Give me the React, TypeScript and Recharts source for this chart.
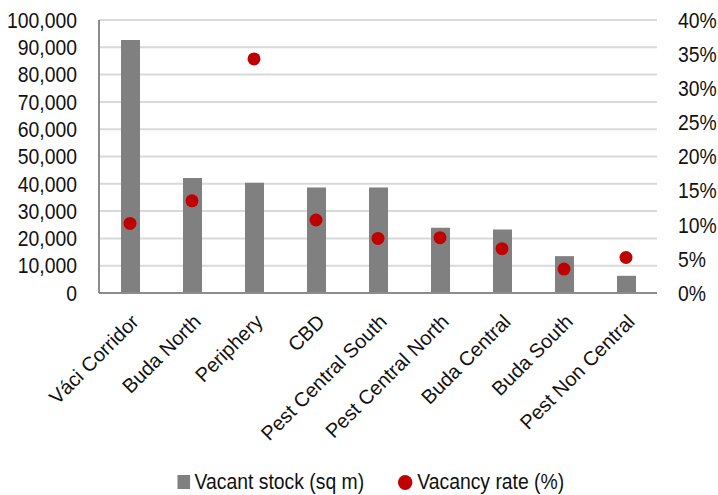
import React from 'react';
import { ComposedChart, Bar, Line, XAxis, YAxis, CartesianGrid, Legend } from 'recharts';

const categories = ['Váci Corridor', 'Buda North', 'Periphery', 'CBD', 'Pest Central South', 'Pest Central North', 'Buda Central', 'Buda South', 'Pest Non Central'];
const vacantStock = [92700, 42100, 40400, 38600, 38600, 23900, 23300, 13500, 6300];
const vacancyRate = [10.2, 13.5, 34.3, 10.7, 8.0, 8.1, 6.5, 3.5, 5.2];
const leftTicks = [0, 10000, 20000, 30000, 40000, 50000, 60000, 70000, 80000, 90000, 100000];
const rightTicks = [0, 5, 10, 15, 20, 25, 30, 35, 40];

const data = categories.map((name, i) => ({ name, stock: vacantStock[i], rate: vacancyRate[i] }));

const FONT = '"Liberation Sans", Arial, sans-serif';
const TEXT = '#111';
const SX = 0.9;
const FS = 21.5;

const CategoryTick = (props: any) => {
  const { x, y, payload } = props;
  const ax = x + 10;
  const ay = y + 22;
  return (
    <text x={ax} y={ay} transform={`rotate(-45, ${ax}, ${ay})`} textAnchor="end" fontSize={20} fontFamily={FONT} fill={TEXT}>
      {payload.value}
    </text>
  );
};

const ValueTick = (props: any) => {
  const { x, y, payload, textAnchor, tickFormatter } = props;
  const label = tickFormatter ? tickFormatter(payload.value) : String(payload.value);
  return (
    <g transform={`translate(${x}, ${y}) scale(${SX}, 1)`}>
      <text x={0} y={0} dy="0.36em" textAnchor={textAnchor} fontSize={FS} fontFamily={FONT} fill={TEXT}>
        {label}
      </text>
    </g>
  );
};

const renderLegend = () => (
  <div style={{ height: 26, display: 'flex', justifyContent: 'center', alignItems: 'center', fontFamily: FONT, fontSize: FS, color: TEXT, paddingLeft: 24 }}>
    <div style={{ display: 'flex', alignItems: 'center', transform: `scaleX(${SX})` }}>
      <span style={{ display: 'inline-block', width: 14, height: 14, background: '#808080', marginRight: 5 }} />
      <span>Vacant stock (sq m)</span>
      <span style={{ display: 'inline-block', width: 16, height: 15, borderRadius: '50%', background: '#c00000', marginLeft: 38, marginRight: 5 }} />
      <span>Vacancy rate (%)</span>
    </div>
  </div>
);

export default function App() {
  return (
    <div style={{ position: 'absolute', left: 0, top: 0, width: 718, height: 495, background: '#fff' }}>
      <ComposedChart width={718} height={495} data={data} margin={{ top: 20, right: 0, bottom: 0, left: 0 }} barCategoryGap="35%">
        <CartesianGrid yAxisId="left" vertical={false} stroke="#d9d9d9" strokeWidth={2} />
        <XAxis dataKey="name" height={176} interval={0} tick={<CategoryTick />} tickLine={false} axisLine={{ stroke: '#8c8c8c', strokeWidth: 2 }} />
        <YAxis yAxisId="left" width={99} domain={[0, 100000]} ticks={leftTicks} interval={0} tickFormatter={(v: number) => v.toLocaleString('en-US')} tickLine={false} tickMargin={16} axisLine={{ stroke: '#8c8c8c', strokeWidth: 2 }} tick={<ValueTick />} />
        <YAxis yAxisId="right" orientation="right" width={61} domain={[0, 40]} ticks={rightTicks} interval={0} tickFormatter={(v: number) => `${v}%`} tickLine={false} tickMargin={15} axisLine={false} tick={<ValueTick />} />
        <Legend verticalAlign="bottom" content={renderLegend} />
        <Bar yAxisId="left" dataKey="stock" name="Vacant stock (sq m)" fill="#808080" barSize={19} isAnimationActive={false} />
        <Line yAxisId="right" dataKey="rate" name="Vacancy rate (%)" stroke="none" dot={{ r: 6.5, fill: '#c00000', stroke: 'none' }} activeDot={false} isAnimationActive={false} />
      </ComposedChart>
    </div>
  );
}
